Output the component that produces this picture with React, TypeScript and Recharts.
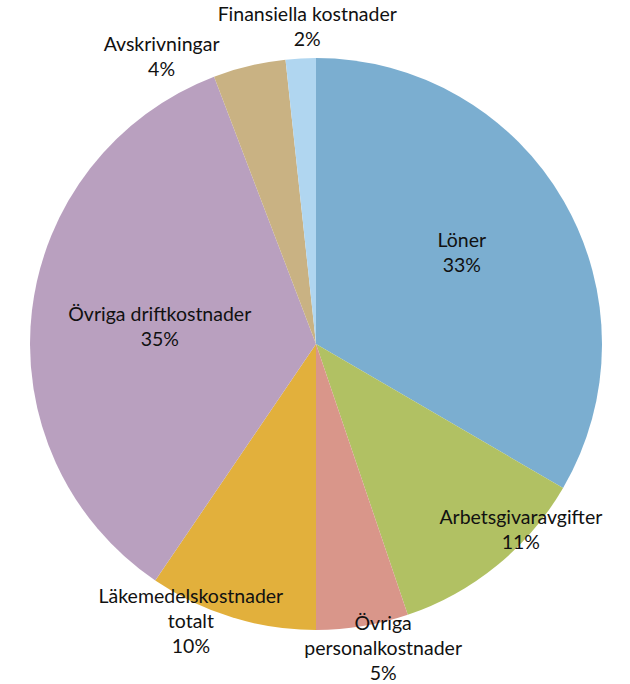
import React from 'react';
import { PieChart, Pie, Cell } from 'recharts';

// cost categories, clockwise from 12 o'clock
const categories = [
    'Löner',
    'Arbetsgivaravgifter',
    'Övriga\npersonalkostnader',
    'Läkemedelskostnader\ntotalt',
    'Övriga driftkostnader',
    'Avskrivningar',
    'Finansiella kostnader',
];

// share of total costs (%)
const shares = [33.4, 11.4, 5.2, 9.5, 34.7, 4.1, 1.7];

const COLORS = ['#7BAED0', '#B1C163', '#D9968A', '#E2B03C', '#B9A0BF', '#C9B283', '#B0D6F0'];

const data = categories.map((name, i) => ({ name, value: shares[i] }));

// label placement: radius factor + nudge (px) per slice, Excel-ish best fit
const LABEL_POS = [
    { f: 0.6, dx: -3, dy: -7 },
    { f: 0.95, dx: 33, dy: -26 },
    { f: 1.1, dx: 16, dy: -7 },
    { f: 1.0, dx: -41, dy: 3 },
    { f: 0.55, dx: 0, dy: 0 },
    { f: 1.1, dx: -81, dy: 17 },
    { f: 1.1, dx: 8, dy: -4 },
];

const RAD = Math.PI / 180;
const LINE_H = 25;

const SliceLabel = ({ cx, cy, midAngle, outerRadius, index, percent }: any) => {
    const pos = LABEL_POS[index];
    const r = outerRadius * pos.f;
    const x = cx + r * Math.cos(-midAngle * RAD) + pos.dx;
    const y = cy + r * Math.sin(-midAngle * RAD) + pos.dy;
    const lines = [...categories[index].split('\n'), `${Math.round(percent * 100)}%`];
    const y0 = y - ((lines.length - 1) * LINE_H) / 2;
    return (
        <text
            x={x}
            y={y0}
            textAnchor="middle"
            dominantBaseline="central"
            fill="#111"
            fontSize={19.5}
            fontFamily="Lato, 'Open Sans', sans-serif"
        >
            {lines.map((l, i) => (
                <tspan key={i} x={x} y={y0 + i * LINE_H}>
                    {l}
                </tspan>
            ))}
        </text>
    );
};

export default function App() {
    return (
        <div style={{ position: 'fixed', left: 0, top: 0, width: 630, height: 684, background: '#fff' }}>
            <PieChart width={630} height={684} margin={{ top: 0, right: 0, bottom: 0, left: 0 }}>
                <Pie
                    data={data}
                    dataKey="value"
                    nameKey="name"
                    cx={316}
                    cy={344}
                    outerRadius={286}
                    startAngle={90}
                    endAngle={-270}
                    stroke="none"
                    labelLine={false}
                    label={SliceLabel}
                    isAnimationActive={false}
                >
                    {data.map((d, i) => (
                        <Cell key={d.name} fill={COLORS[i]} />
                    ))}
                </Pie>
            </PieChart>
        </div>
    );
}
